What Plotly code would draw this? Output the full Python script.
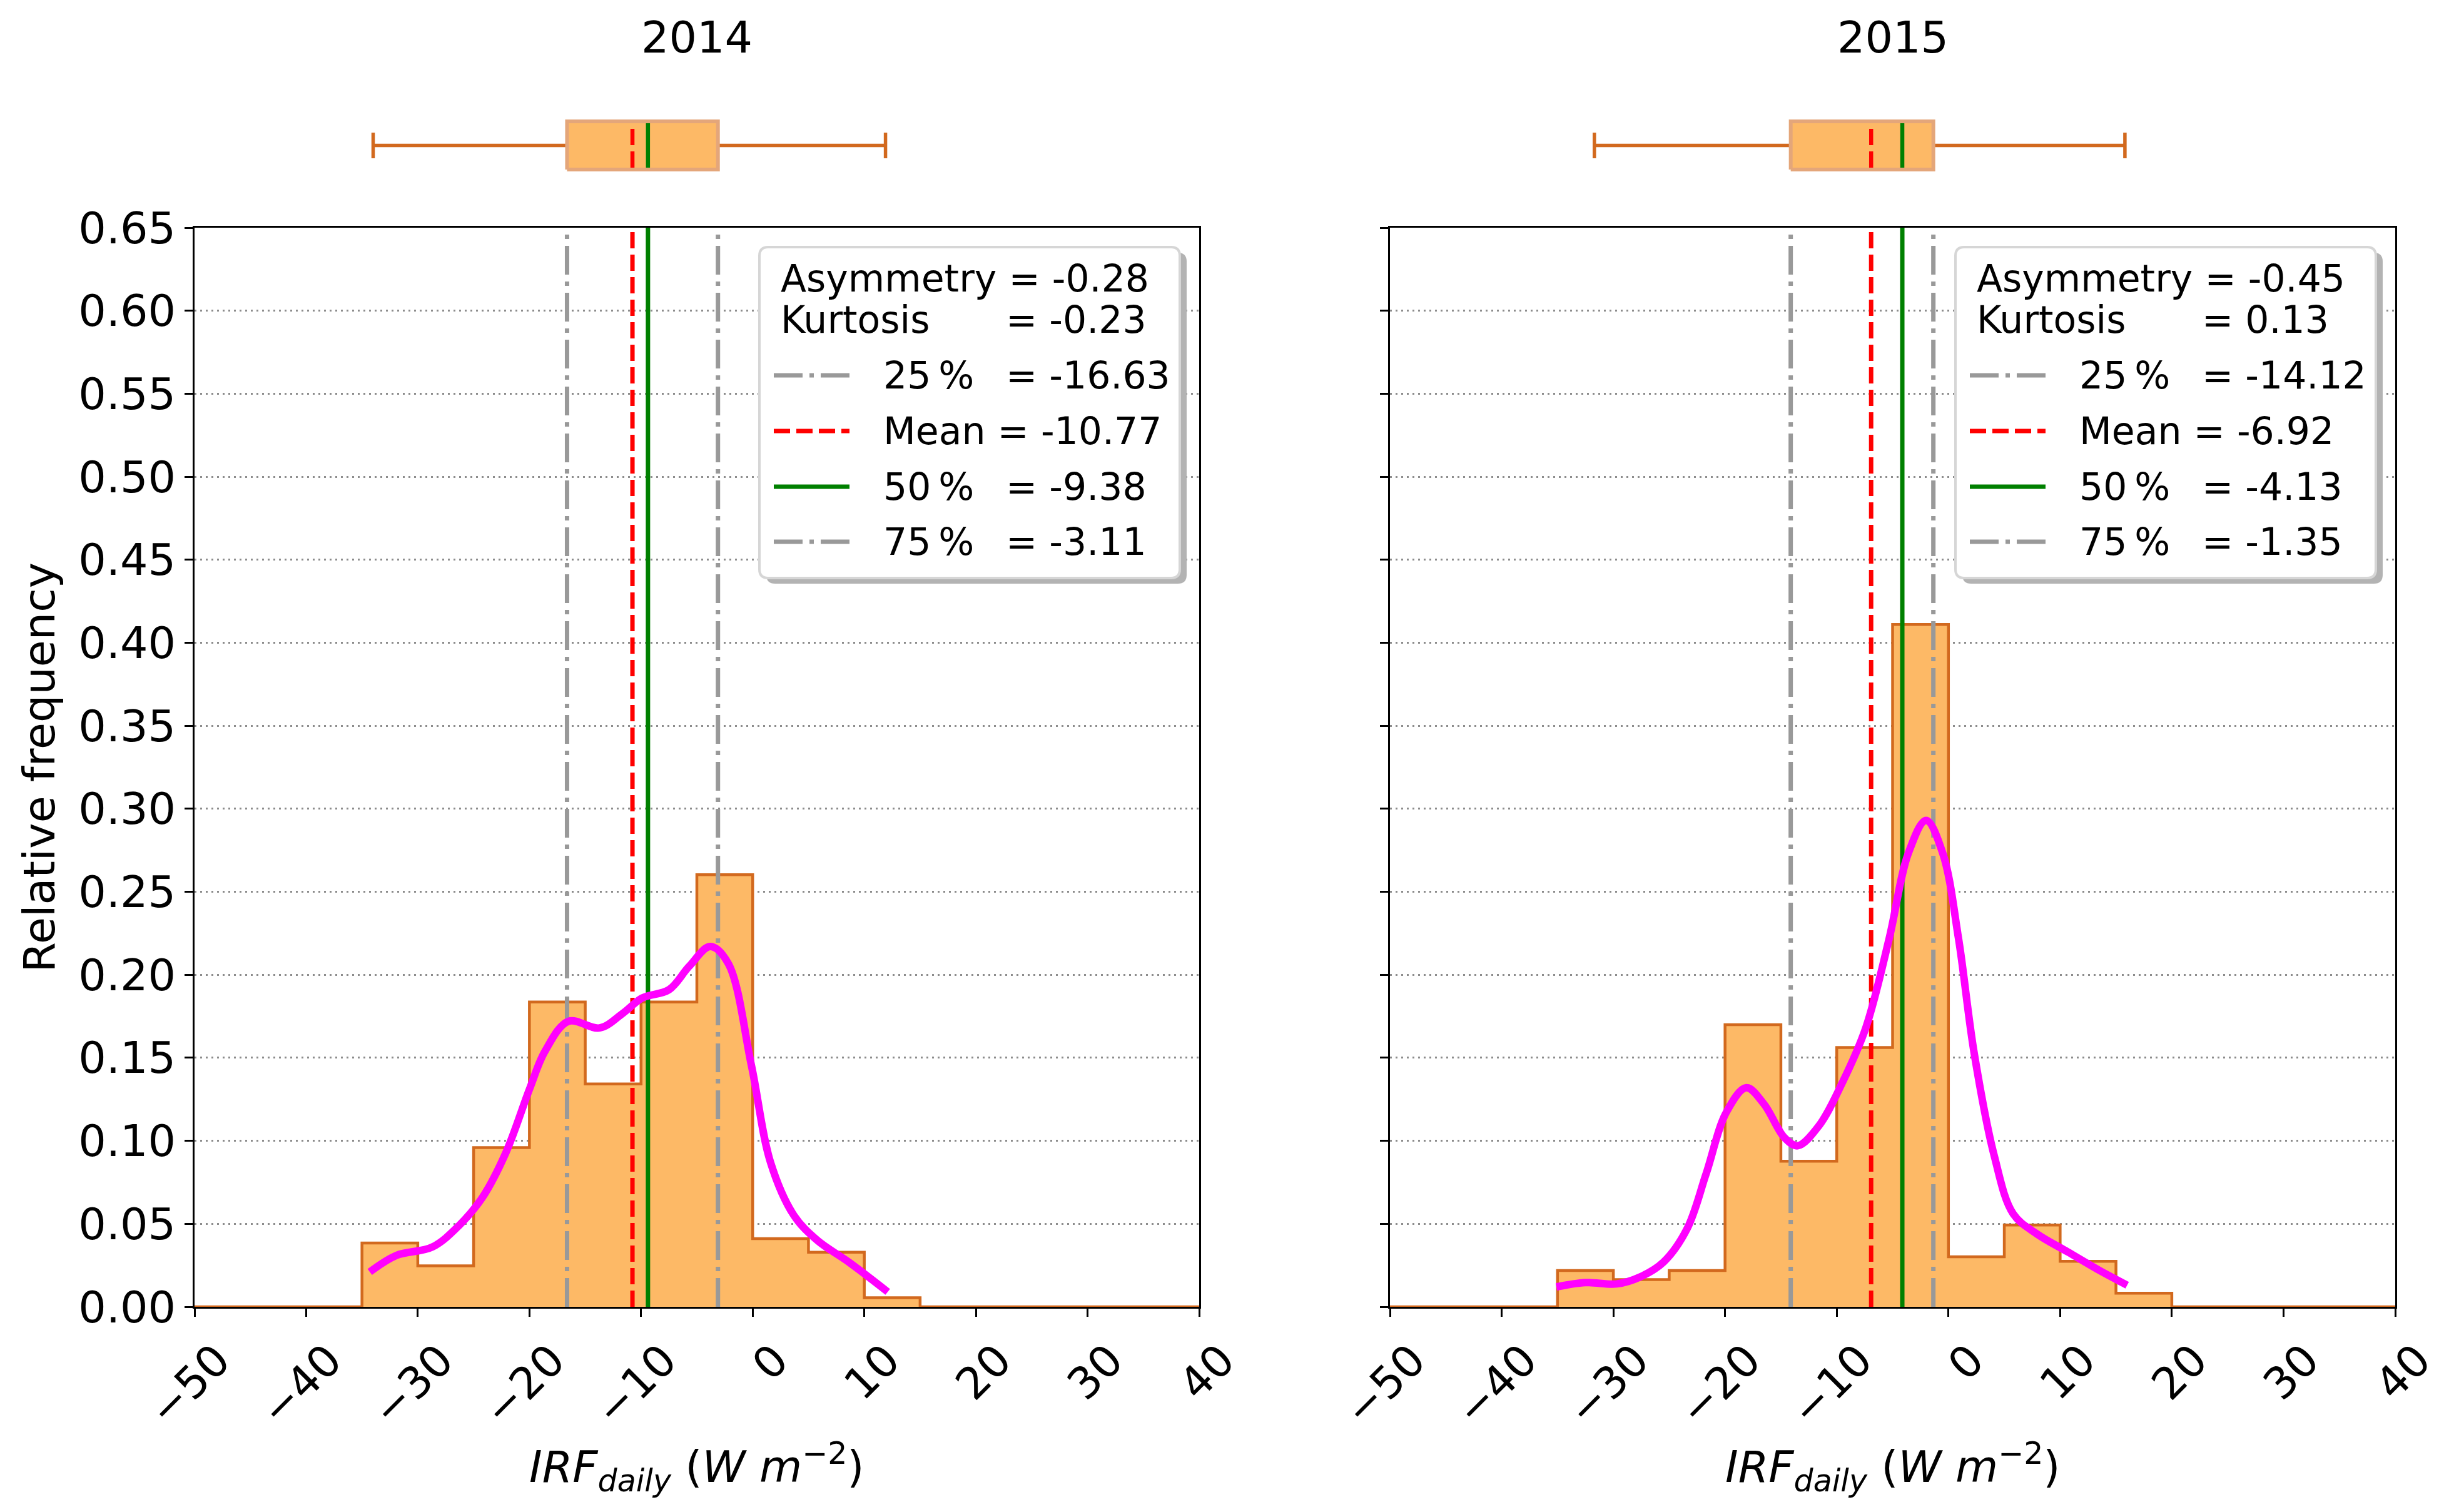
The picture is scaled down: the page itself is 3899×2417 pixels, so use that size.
import plotly.graph_objects as go

# ---- data ----
years = ["2014", "2015"]

bin_edges_2014 = [-35, -30, -25, -20, -15, -10, -5, 0, 5, 10, 15]
freq_2014 = [0.0384, 0.0247, 0.0959, 0.1836, 0.1342, 0.1836, 0.2603, 0.0411, 0.0329, 0.0055]

bin_edges_2015 = [-35, -30, -25, -20, -15, -10, -5, 0, 5, 10, 15, 20]
freq_2015 = [0.0219, 0.0164, 0.0219, 0.1699, 0.0877, 0.1562, 0.4110, 0.0301, 0.0493, 0.0274, 0.0082]

kde_x_2014 = [-34.3, -31.9, -28.7, -26.3, -24.2, -22.1, -20.0, -18.6, -16.5, -13.7, -11.6,
              -9.9, -7.5, -5.7, -3.8, -2.2, -0.1, 1.6, 3.7, 5.8, 8.6, 12.1]
kde_y_2014 = [0.021, 0.031, 0.036, 0.049, 0.066, 0.093, 0.131, 0.154, 0.172, 0.168, 0.177,
              0.186, 0.191, 0.205, 0.217, 0.207, 0.145, 0.087, 0.055, 0.040, 0.027, 0.009]

kde_x_2015 = [-35.1, -32.5, -29.7, -27.6, -25.5, -23.4, -21.7, -19.9, -18.1, -16.5, -14.7,
              -13.5, -11.6, -9.5, -7.4, -5.3, -3.6, -2.0, -0.5, 0.9, 2.3, 4.1, 5.8, 7.9,
              10.7, 13.5, 16.0]
kde_y_2015 = [0.012, 0.0146, 0.0138, 0.018, 0.027, 0.047, 0.080, 0.117, 0.132, 0.122, 0.102,
              0.097, 0.109, 0.135, 0.168, 0.222, 0.273, 0.293, 0.273, 0.222, 0.153, 0.091,
              0.056, 0.044, 0.033, 0.022, 0.013]

asym = [-0.28, -0.45]
kurt = [-0.23, 0.13]
q25 = [-16.63, -14.12]
means = [-10.77, -6.92]
q50 = [-9.38, -4.13]
q75 = [-3.11, -1.35]
whisk_lo = [-34.0, -31.7]
whisk_hi = [11.9, 15.8]

x_ticks = [-50, -40, -30, -20, -10, 0, 10, 20, 30, 40]
y_ticks = [0.0, 0.05, 0.10, 0.15, 0.20, 0.25, 0.30, 0.35, 0.40, 0.45, 0.50, 0.55, 0.60, 0.65]

edges = [bin_edges_2014, bin_edges_2015]
freqs = [freq_2014, freq_2015]
kde_x = [kde_x_2014, kde_x_2015]
kde_y = [kde_y_2014, kde_y_2015]

# ---- styling ----
FILL = "#FDB966"
EDGE = "#D2691E"
BOXEDGE = "#E4A67A"
GRAY = "#999999"
DASHDOT = "46px,11px,7px,11px"
DASH = "26px,10px"
FONT = "DejaVu Sans"

# page coordinates (the plot div sits 8px in from the page corner)
W, H = 3899, 2417
OFF = 8
FX0, FX1 = 311, 3829
FY0, FY1 = 28, 2089
ML, MR = FX0 - OFF, W - (FX1 - OFF)
MT, MB = FY0 - OFF, H - (FY1 - OFF)


def px(x):
    return (x - FX0) / (FX1 - FX0)


def py(y):
    return (FY1 - y) / (FY1 - FY0)


panel_px = [(311, 1917), (2222, 3829)]
main_top, main_bot = 364, 2089
box_top, box_bot = 155.5, 309.5

fig = go.Figure()

for i, yr in enumerate(years):
    xa, ya = ("x", "y") if i == 0 else ("x2", "y2")
    xb, yb = ("x3", "y3") if i == 0 else ("x4", "y4")

    # histogram as filled step outline
    e = edges[i]
    sx = [-50] + e[:-1] + [e[-1], 40]
    sy = [0] + freqs[i] + [0, 0]
    fig.add_trace(go.Scatter(x=sx, y=sy, mode="lines", line=dict(shape="hv", color=EDGE, width=4.5),
                             fill="tozeroy", fillcolor=FILL, xaxis=xa, yaxis=ya, showlegend=False))

    # quantile / mean lines
    for val, col, dash in [(q25[i], GRAY, DASHDOT), (means[i], "red", DASH),
                           (q50[i], "green", "solid"), (q75[i], GRAY, DASHDOT)]:
        fig.add_trace(go.Scatter(x=[val, val], y=[0, 0.65], mode="lines",
                                 line=dict(color=col, width=7, dash=dash),
                                 xaxis=xa, yaxis=ya, showlegend=False))

    # kde
    fig.add_trace(go.Scatter(x=kde_x[i], y=kde_y[i], mode="lines",
                             line=dict(color="#FF00FF", width=12, shape="spline"),
                             xaxis=xa, yaxis=ya, showlegend=False))

    # box plot above
    fig.add_trace(go.Scatter(x=[whisk_lo[i], q25[i]], y=[0.5, 0.5], mode="lines",
                             line=dict(color=EDGE, width=5.5), xaxis=xb, yaxis=yb, showlegend=False))
    fig.add_trace(go.Scatter(x=[q75[i], whisk_hi[i]], y=[0.5, 0.5], mode="lines",
                             line=dict(color=EDGE, width=5.5), xaxis=xb, yaxis=yb, showlegend=False))
    for w in (whisk_lo[i], whisk_hi[i]):
        fig.add_trace(go.Scatter(x=[w, w], y=[0.367, 0.633], mode="lines",
                                 line=dict(color=EDGE, width=5.5), xaxis=xb, yaxis=yb, showlegend=False))
    fig.add_trace(go.Scatter(x=[q25[i], q75[i], q75[i], q25[i], q25[i]], y=[0.25, 0.25, 0.75, 0.75, 0.25],
                             mode="lines", fill="toself", fillcolor=FILL,
                             line=dict(color=BOXEDGE, width=6), xaxis=xb, yaxis=yb, showlegend=False))
    fig.add_trace(go.Scatter(x=[means[i], means[i]], y=[0.27, 0.69], mode="lines",
                             line=dict(color="red", width=6.5, dash=DASH), xaxis=xb, yaxis=yb, showlegend=False))
    fig.add_trace(go.Scatter(x=[q50[i], q50[i]], y=[0.27, 0.73], mode="lines",
                             line=dict(color="green", width=6.5), xaxis=xb, yaxis=yb, showlegend=False))

xcommon = dict(range=[-50, 40], tickvals=x_ticks, tickangle=-45, ticks="outside", ticklen=13, tickwidth=3,
               tickcolor="black", showline=True, linecolor="black", linewidth=3, mirror=True,
               showgrid=False, zeroline=False, tickfont=dict(size=70), ticklabelshift=36,
               ticklabeloverflow="allow", automargin=False)
ycommon = dict(range=[0, 0.65], tickvals=y_ticks, tickformat=".2f", ticks="outside", ticklen=13, tickwidth=3,
               tickcolor="black", showline=True, linecolor="black", linewidth=3, mirror=True,
               showgrid=True, gridcolor="#8c8c8c", gridwidth=3, griddash="3px,6px", zeroline=False,
               tickfont=dict(size=70), domain=[0, py(main_top)], automargin=False)
boxx = dict(range=[-50, 40], visible=False, automargin=False)
boxy = dict(range=[0, 1], visible=False, domain=[py(box_bot), py(box_top)], automargin=False)

fig.update_layout(
    width=W, height=H,
    margin=dict(l=ML, r=MR, t=MT, b=MB, autoexpand=False),
    plot_bgcolor="white", paper_bgcolor="white",
    font=dict(family=FONT, color="black", size=60),
    showlegend=False,
    xaxis=dict(xcommon, domain=[px(311), px(1917)], anchor="y"),
    yaxis=dict(ycommon, anchor="x"),
    xaxis2=dict(xcommon, domain=[px(2222), px(3829)], anchor="y2"),
    yaxis2=dict(ycommon, anchor="x2", showticklabels=False),
    xaxis3=dict(boxx, domain=[px(311), px(1917)], anchor="y3"),
    yaxis3=dict(boxy, anchor="x3"),
    xaxis4=dict(boxx, domain=[px(2222), px(3829)], anchor="y4"),
    yaxis4=dict(boxy, anchor="x4"),
)


def rrect(x0, y0, x1, y1, r):
    pts = [("M", x0 + r, y0), ("L", x1 - r, y0), ("Q", x1, y0, x1, y0 + r), ("L", x1, y1 - r),
           ("Q", x1, y1, x1 - r, y1), ("L", x0 + r, y1), ("Q", x0, y1, x0, y1 - r),
           ("L", x0, y0 + r), ("Q", x0, y0, x0 + r, y0)]
    out = []
    for p in pts:
        cmd, coords = p[0], p[1:]
        s = cmd + " " + " ".join(f"{px(coords[k]):.5f},{py(coords[k + 1]):.5f}" for k in range(0, len(coords), 2))
        out.append(s)
    return " ".join(out) + " Z"


shapes = []
annotations = []
for i, yr in enumerate(years):
    L, R = panel_px[i]
    cx = (L + R) / 2
    annotations.append(dict(text=yr, x=px(cx), y=py(60.5), xref="paper", yref="paper", showarrow=False,
                            xanchor="center", yanchor="middle", font=dict(size=70)))
    annotations.append(dict(text="<i>IRF</i><sub><i>daily</i></sub> (<i>W m</i><sup>\u22122</sup>)",
                            x=px(cx), y=py(2345), xref="paper", yref="paper", showarrow=False,
                            xanchor="center", yanchor="middle", font=dict(size=70)))

    # legend box
    bl, br, bt, bb = R - 703, R - 31, 395, 924
    shapes.append(dict(type="path", path=rrect(bl + 11, bt + 9, br + 11, bb + 9, 14), xref="paper", yref="paper",
                       fillcolor="#b3b3b3", line=dict(width=0)))
    shapes.append(dict(type="path", path=rrect(bl, bt, br, bb, 14), xref="paper", yref="paper",
                       fillcolor="white", line=dict(color="#d6d6d6", width=4)))

    rows = [bt + 50, bt + 116, bt + 205, bt + 294, bt + 383, bt + 471]
    tx_left, tx_lab, tx_eq = bl + 32, bl + 196, bl + 392

    def ann(text, x, y):
        annotations.append(dict(text=text, x=px(x), y=py(y), xref="paper", yref="paper", showarrow=False,
                                xanchor="left", yanchor="middle", font=dict(size=60)))

    ann(f"Asymmetry = {asym[i]:.2f}", tx_left, rows[0])
    ann("Kurtosis", tx_left, rows[1])
    ann(f"= {kurt[i]:.2f}", tx_eq, rows[1])
    ann("25\u2009%", tx_lab, rows[2])
    ann(f"= {q25[i]:.2f}", tx_eq, rows[2])
    ann(f"Mean = {means[i]:.2f}", tx_lab, rows[3])
    ann("50\u2009%", tx_lab, rows[4])
    ann(f"= {q50[i]:.2f}", tx_eq, rows[4])
    ann("75\u2009%", tx_lab, rows[5])
    ann(f"= {q75[i]:.2f}", tx_eq, rows[5])

    for row, col, dash in [(rows[2], GRAY, DASHDOT), (rows[3], "red", DASH),
                           (rows[4], "green", "solid"), (rows[5], GRAY, DASHDOT)]:
        shapes.append(dict(type="line", x0=px(bl + 23), x1=px(bl + 144), y0=py(row), y1=py(row),
                           xref="paper", yref="paper", line=dict(color=col, width=7, dash=dash)))

annotations.append(dict(text="Relative frequency", x=px(62), y=py((main_top + main_bot) / 2),
                        xref="paper", yref="paper", showarrow=False, textangle=-90,
                        xanchor="center", yanchor="middle", font=dict(size=70)))

fig.update_layout(shapes=shapes, annotations=annotations)

fig.write_html("out.html")
